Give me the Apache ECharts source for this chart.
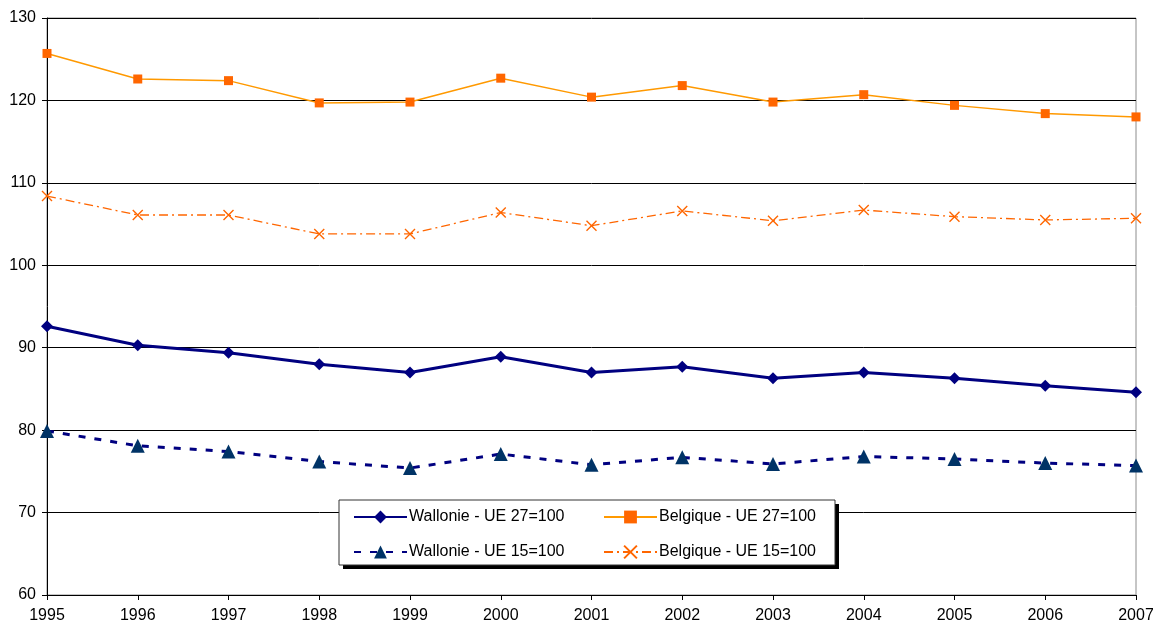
<!DOCTYPE html>
<html>
<head>
<meta charset="utf-8">
<script src="https://cdn.jsdelivr.net/npm/echarts@6/dist/echarts.min.js"></script>
<style>
  html, body { margin: 0; padding: 0; background: #fff; }
  #chart { width: 1153px; height: 626px; }
</style>
</head>
<body>
<div id="chart"></div>
<script>
// Years on the horizontal axis
const years = ['1995','1996','1997','1998','1999','2000','2001','2002','2003','2004','2005','2006','2007'];

// Index values (EU = 100)
const wallonieUE27 = [92.6, 90.3, 89.4, 88.0, 87.0, 88.9, 87.0, 87.7, 86.3, 87.0, 86.3, 85.4, 84.6];
const belgiqueUE27 = [125.7, 122.6, 122.4, 119.7, 119.8, 122.7, 120.4, 121.8, 119.8, 120.7, 119.4, 118.4, 118.0];
const wallonieUE15 = [79.9, 78.1, 77.4, 76.2, 75.4, 77.1, 75.8, 76.7, 75.9, 76.8, 76.5, 76.0, 75.7];
const belgiqueUE15 = [108.4, 106.1, 106.1, 103.8, 103.8, 106.4, 104.8, 106.6, 105.4, 106.7, 105.9, 105.5, 105.7];

const names = {
  w27: 'Wallonie - UE 27=100',
  b27: 'Belgique - UE 27=100',
  w15: 'Wallonie - UE 15=100',
  b15: 'Belgique - UE 15=100'
};

const font = 'Liberation Sans, Arial, sans-serif';
const chart = echarts.init(document.getElementById('chart'), null, { renderer: 'canvas' });

const legendBase = {
  orient: 'vertical',
  top: 504,
  padding: 5,
  itemWidth: 53, itemHeight: 16, itemGap: 19,
  textStyle: { color: '#000', fontSize: 16, fontFamily: font, padding: [0, 0, 0, -3] },
  z: 60
};

chart.setOption({
  animation: false,
  backgroundColor: '#fff',
  grid: {
    left: 47, right: 17, top: 18, bottom: 31,
    outerBoundsMode: 'none',
    containLabel: false,
    show: true, borderColor: '#8c8c8c', borderWidth: 1
  },
  xAxis: {
    type: 'category',
    data: years,
    boundaryGap: false,
    axisLine: { lineStyle: { color: '#000', width: 1 } },
    axisTick: { show: true, length: 5, lineStyle: { color: '#000' } },
    axisLabel: { color: '#000', fontSize: 16, fontFamily: font, margin: 13 },
    splitLine: { show: false }
  },
  yAxis: {
    type: 'value',
    min: 60, max: 130, interval: 10,
    axisLine: { show: true, lineStyle: { color: '#000', width: 1 } },
    axisTick: { show: true, length: 5, lineStyle: { color: '#000' } },
    axisLabel: { color: '#000', fontSize: 16, fontFamily: font, margin: 11 },
    splitLine: { show: true, lineStyle: { color: '#000', width: 1 } }
  },
  // Legend frame with a solid drop shadow
  graphic: [{
    type: 'rect',
    shape: { x: 343, y: 504, width: 496, height: 65 },
    style: { fill: '#000' },
    z: 50
  }, {
    type: 'rect',
    shape: { x: 339, y: 500, width: 496, height: 65 },
    style: { fill: '#fff', stroke: '#333', lineWidth: 1 },
    z: 51
  }],
  legend: [
    Object.assign({}, legendBase, { left: 348, data: [names.w27, names.w15] }),
    Object.assign({}, legendBase, { left: 598, data: [names.b27, names.b15] })
  ],
  series: [{
    name: names.b27,
    type: 'line',
    data: belgiqueUE27,
    symbol: 'rect', symbolSize: 9,
    lineStyle: { color: '#FF9900', width: 1.5 },
    itemStyle: { color: '#FF6600' },
    z: 3
  }, {
    name: names.b15,
    type: 'line',
    data: belgiqueUE15,
    symbol: 'path://M0,0L10,10M10,0L0,10',
    symbolSize: 10,
    lineStyle: { color: '#FF6600', width: 1.3, type: [9, 4, 2, 4] },
    itemStyle: { color: 'rgba(0,0,0,0)', borderColor: '#FF6600', borderWidth: 1.4 },
    z: 3
  }, {
    name: names.w27,
    type: 'line',
    data: wallonieUE27,
    symbol: 'diamond', symbolSize: 12,
    lineStyle: { color: '#000080', width: 3 },
    itemStyle: { color: '#000080' },
    z: 3
  }, {
    name: names.w15,
    type: 'line',
    data: wallonieUE15,
    symbol: 'triangle', symbolSize: 14,
    lineStyle: { color: '#000080', width: 3, type: [7, 9] },
    itemStyle: { color: '#003366' },
    z: 3
  }]
});
</script>
</body>
</html>
